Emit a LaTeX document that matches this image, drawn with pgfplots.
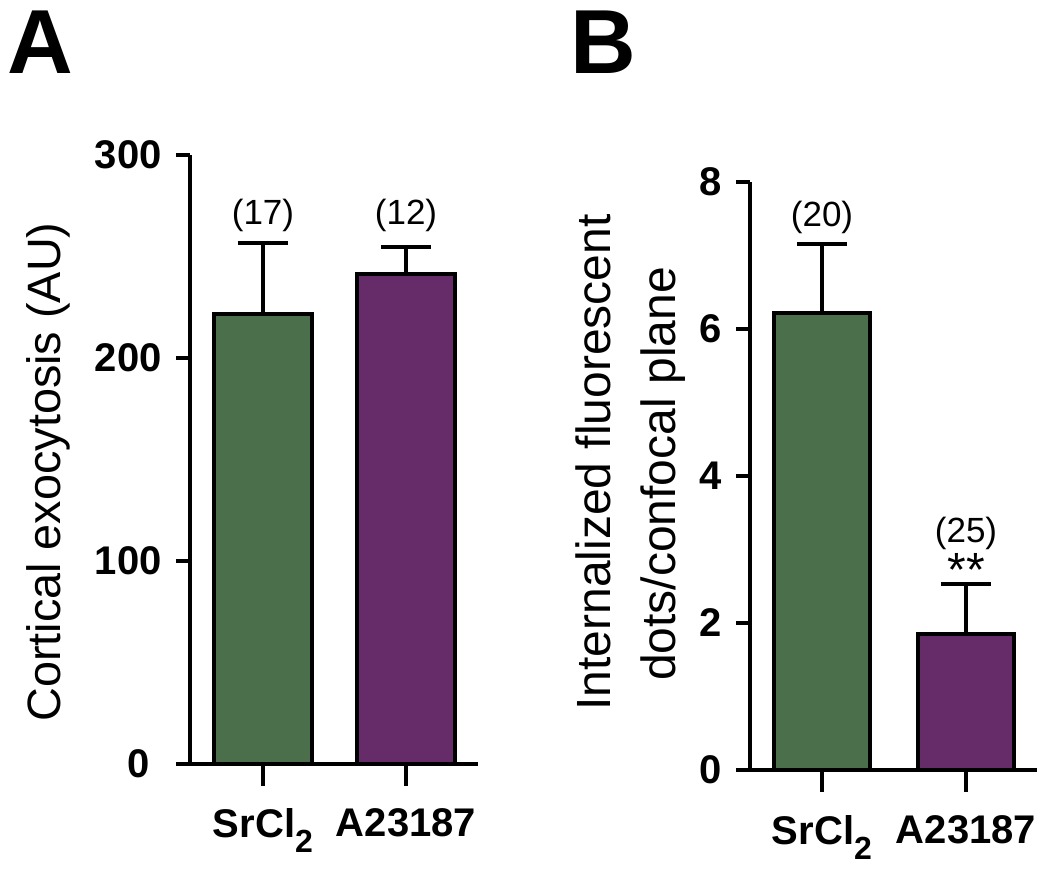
\documentclass[border=0pt]{standalone}
\usepackage{fontspec}
\setmainfont{Liberation Sans}
\usepackage{pgfplots}
\pgfplotsset{compat=1.18}
\definecolor{grn}{RGB}{74,111,74}
\definecolor{pur}{RGB}{102,44,106}
\newcommand{\tickfont}{\bfseries\fontsize{20}{24}\selectfont}
\newcommand{\annfont}{\fontsize{17.5}{21}\selectfont}
\newcommand{\srcl}{SrCl\raisebox{-7.5pt}{\fontsize{16}{16}\selectfont 2}}
\pgfplotsset{
  panel/.style={
    scale only axis, anchor=south west,
    axis x line*=bottom, axis y line*=left,
    axis line style={line width=2pt,-},
    every tick/.style={line width=2pt,black},
    tick align=outside,
    major tick length=7pt,
    xtick style={/pgfplots/major tick length=11pt},
    xtick={0,1}, xticklabels={\srcl,A23187},
    ymin=0, clip=false,
    ybar, bar shift=0pt,
    /pgf/number format/assume math mode=true,
    yticklabel style={font=\tickfont, inner sep=0pt, xshift=-7pt},
  },
  barA/.style={draw=black, line width=2pt,
    error bars/.cd, y dir=plus, y explicit,
    error mark=|,
    error bar style={line width=2pt,black},
    error mark options={line width=2pt,black,mark size=12.6pt}},
}
\begin{document}
\begin{tikzpicture}
\path[use as bounding box] (0,0) rectangle (525pt,435pt);
% panel letters
\node[anchor=base west, inner sep=0pt] at (3.5pt,398pt) {\bfseries\fontsize{45.5}{50}\selectfont A};
\node[anchor=base west, inner sep=0pt] at (285pt,398pt) {\bfseries\fontsize{45.5}{50}\selectfont B};
% y labels
\node[anchor=base, rotate=90, inner sep=0pt, font=\fontsize{23.4}{28}\selectfont] at (30pt,199pt) {Cortical exocytosis (AU)};
\node[anchor=base, rotate=90, inner sep=0pt, font=\fontsize{24}{28}\selectfont] at (305pt,203.75pt) {Internalized fluorescent};
\node[anchor=base, rotate=90, inner sep=0pt, font=\fontsize{24}{28}\selectfont] at (337.5pt,198pt) {dots/confocal plane};
% Panel A
\begin{axis}[panel, at={(95pt,53pt)}, width=144pt, height=304.5pt,
  xticklabel style={font=\tickfont, inner sep=0pt, yshift=-15pt},
  xmin=-0.51, xmax=1.503, ymax=300, ytick={0,100,200,300},
  yticklabels={0\hspace*{6pt},100,200,300}, bar width=0.68]
\addplot[fill=grn, barA] coordinates {(0,221.7) +- (0,35.0)};
\addplot[fill=pur, barA] coordinates {(1,241.4) +- (0,13.3)};
\draw[line width=2pt] (axis cs:-0.51,0) -- ++(-7.5pt,0);
\node[anchor=base, inner sep=0pt, font=\annfont] at (axis cs:0,266) {(17)};
\node[anchor=base, inner sep=0pt, font=\annfont] at (axis cs:1,266) {(12)};
\end{axis}
% Panel B
\begin{axis}[panel, at={(375pt,50pt)}, width=143.5pt, height=294pt,
  xticklabel style={font=\tickfont, inner sep=0pt, yshift=-15.5pt},
  xmin=-0.5, xmax=1.493, ymax=8, ytick={0,2,4,6,8}, bar width=0.667]
\addplot[fill=grn, barA] coordinates {(0,6.22) +- (0,0.94)};
\addplot[fill=pur, barA] coordinates {(1,1.85) +- (0,0.68)};
\draw[line width=2pt] (axis cs:-0.5,0) -- ++(-7.5pt,0);
\node[anchor=base, inner sep=0pt, font=\annfont] at (axis cs:0,7.39) {(20)};
\node[anchor=base, inner sep=0pt, font=\annfont] at (axis cs:1,3.09) {(25)};
\node[anchor=base, inner sep=0pt, font=\fontsize{24}{28}\selectfont] at (axis cs:1,2.50) {**};
\end{axis}
\end{tikzpicture}
\end{document}
